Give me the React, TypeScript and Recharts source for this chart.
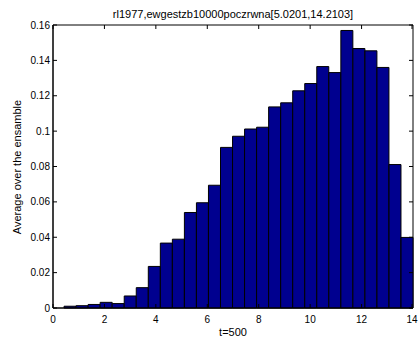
import { Bar, BarChart, ReferenceArea, XAxis, YAxis } from "recharts";

// bin centres of the histogram (t axis)
const binCenters = [
	0.664, 1.132, 1.6, 2.068, 2.536, 3.004, 3.472, 3.94, 4.408, 4.876,
	5.344, 5.812, 6.28, 6.748, 7.216, 7.684, 8.152, 8.62, 9.088, 9.556,
	10.024, 10.492, 10.96, 11.428, 11.896, 12.364, 12.832, 13.3, 13.768,
];

// average over the ensamble, one per bin
const averages = [
	0.001, 0.0013, 0.002, 0.0032, 0.0025, 0.0068, 0.0115, 0.0235, 0.0367, 0.0389,
	0.054, 0.0595, 0.0694, 0.0908, 0.0971, 0.1012, 0.1022, 0.1137, 0.116, 0.1228,
	0.1269, 0.1365, 0.1331, 0.1569, 0.1467, 0.1454, 0.136, 0.0811, 0.0399,
];

const xTicks = [0, 2, 4, 6, 8, 10, 12, 14];
const yTicks = [0, 0.02, 0.04, 0.06, 0.08, 0.1, 0.12, 0.14, 0.16];

const title = "rl1977,ewgestzb10000poczrwna[5.0201,14.2103]";
const xLabel = "t=500";
const yLabel = "Average over the ensamble";

const data = binCenters.map((x, i) => ({ x, v: averages[i] }));

const W = 420;
const H = 341;
const margin = { top: 25, right: 7, bottom: 13, left: 13 };
const yAxisWidth = 40;
const xAxisHeight = 20;
const plotTop = margin.top;
const plotBottom = H - margin.bottom - xAxisHeight;
const plotLeft = margin.left + yAxisWidth;
const plotRight = W - margin.right;
const tickLen = 4;
const font = "'Liberation Sans', Arial, Helvetica, sans-serif";

const XTick = (props: any) => {
	const { x, y, payload } = props;
	return (
		<g>
			<line x1={x} y1={plotBottom} x2={x} y2={plotBottom - tickLen} stroke="#000" />
			<line x1={x} y1={plotTop} x2={x} y2={plotTop + tickLen} stroke="#000" />
			<text x={x} y={y + 14.5} textAnchor="middle" fontSize={10} fontFamily={font} fill="#000">
				{payload.value}
			</text>
		</g>
	);
};

const YTick = (props: any) => {
	const { x, y, payload } = props;
	return (
		<g>
			<line x1={plotLeft} y1={y} x2={plotLeft + tickLen} y2={y} stroke="#000" />
			<line x1={plotRight} y1={y} x2={plotRight - tickLen} y2={y} stroke="#000" />
			<text x={x - 3} y={y + 3.5} textAnchor="end" fontSize={10} fontFamily={font} fill="#000">
				{payload.value}
			</text>
		</g>
	);
};

const textStyle: any = {
	position: "absolute",
	fontFamily: font,
	fontSize: 11,
	color: "#000",
	whiteSpace: "nowrap",
	lineHeight: 1,
};

export default function App() {
	return (
		<div style={{ position: "absolute", left: 0, top: 0, width: W, height: H, background: "#fff" }}>
			<BarChart width={W} height={H} data={data} margin={margin} barCategoryGap={0} barGap={0}>
				<XAxis
					dataKey="x"
					type="number"
					domain={[0, 14]}
					ticks={xTicks}
					height={xAxisHeight}
					tickLine={false}
					tickSize={0}
					tickMargin={0}
					axisLine={{ stroke: "#000" }}
					tick={<XTick />}
				/>
				<YAxis
					type="number"
					domain={[0, 0.16]}
					ticks={yTicks}
					width={yAxisWidth}
					tickLine={false}
					tickSize={0}
					tickMargin={0}
					axisLine={{ stroke: "#000" }}
					tick={<YTick />}
				/>
				<Bar dataKey="v" fill="#00008F" stroke="#000" strokeWidth={1} isAnimationActive={false} />
				<ReferenceArea x1={0} x2={14} y1={0} y2={0.16} fill="none" stroke="#000" strokeOpacity={1} fillOpacity={0} />
			</BarChart>
			<div style={{ ...textStyle, left: 233, top: 14, transform: "translate(-50%, -50%)" }}>{title}</div>
			<div style={{ ...textStyle, left: 233, top: 332, transform: "translate(-50%, -50%)" }}>{xLabel}</div>
			<div style={{ ...textStyle, left: 17, top: 166.5, transform: "translate(-50%, -50%) rotate(-90deg)" }}>{yLabel}</div>
		</div>
	);
}
